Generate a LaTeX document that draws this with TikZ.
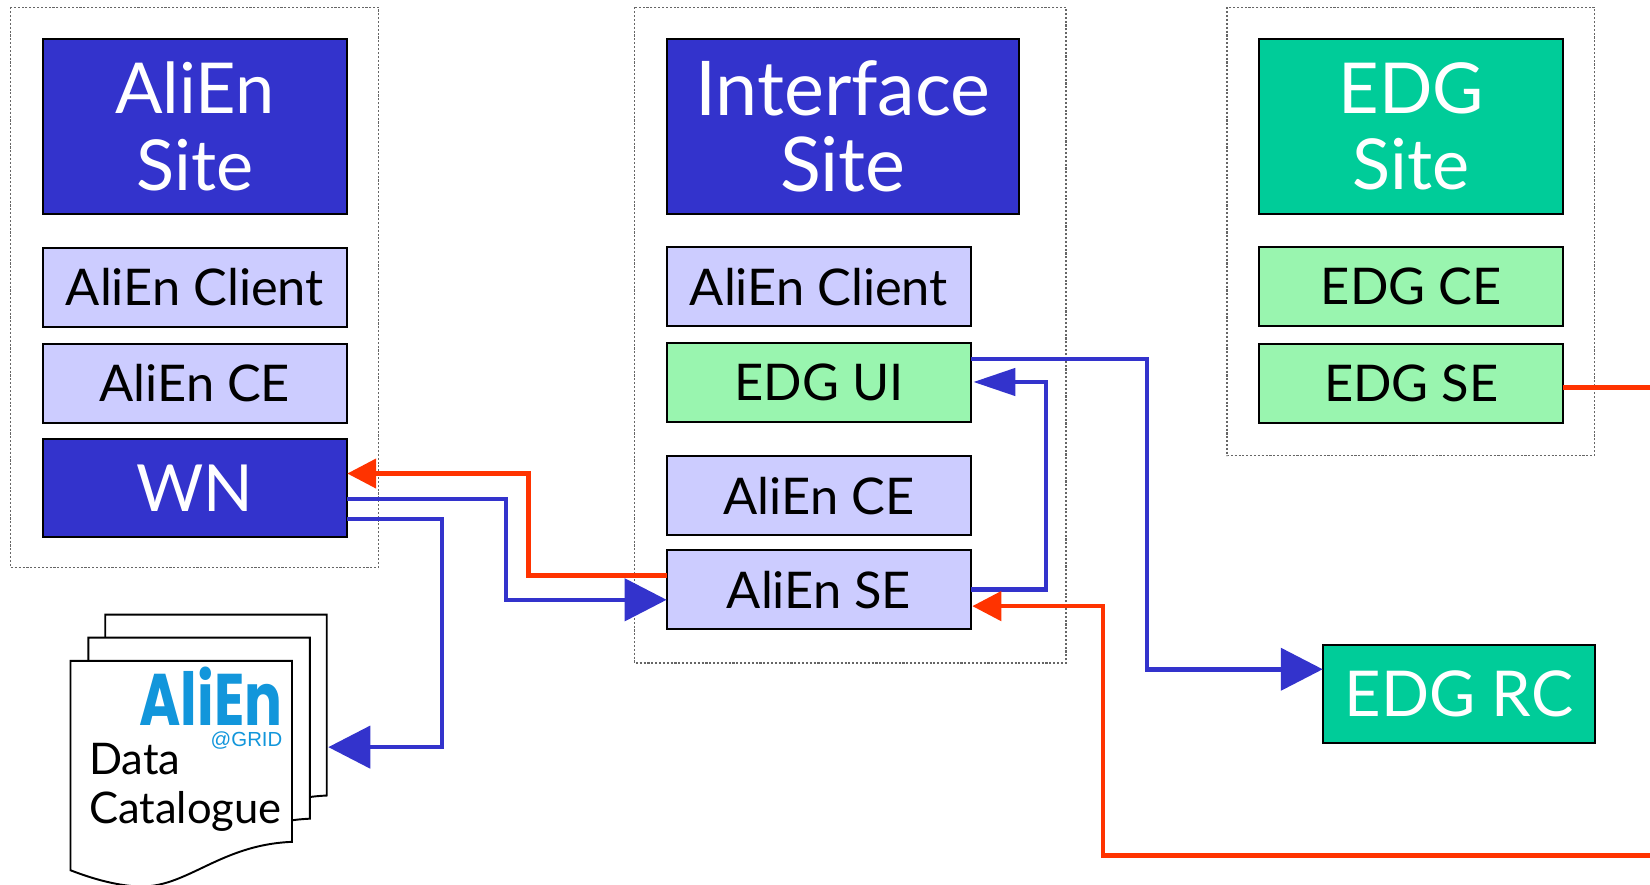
\documentclass[tikz,border=0pt]{standalone}
\usepackage{fontspec}
\setmainfont{Lato}
\newfontfamily\logofont{Poppins}
\newfontfamily\gridfont{Liberation Sans}
\usetikzlibrary{calc}
\usetikzlibrary{arrows.meta}
\definecolor{siteblue}{HTML}{3333CC}
\definecolor{lavender}{HTML}{CCCCFF}
\definecolor{mint}{HTML}{00CC99}
\definecolor{palegreen}{HTML}{99F5AF}
\definecolor{linkred}{HTML}{FF3300}
\definecolor{logoblue}{HTML}{1296DB}
\def\u{.010523cm}
\tikzset{
 sitebox/.style={draw=black!60, line width=.35pt, dash pattern=on .6pt off .5pt},
 box/.style={draw=black, line width=.6pt, inner sep=0, outer sep=0, align=center, anchor=north west},
 headbox/.style={box, text=white, font=\fontsize{20}{21.8}\selectfont},
 itembox/.style={box, text=black, font=\fontsize{14.4}{18}\selectfont},
 catbox/.style={anchor=base west, inner sep=0, text=black, font=\fontsize{12.4}{14.3}\selectfont},
 wirebl/.style={draw=siteblue, line width=1.3pt},
 wirerd/.style={draw=linkred, line width=1.3pt},
 tipbig/.style={-{Triangle[length=.42cm,width=.42cm]}},
 tipmid/.style={-{Triangle[length=.42cm,width=.27cm]}},
 tiprd/.style={-{Triangle[length=.29cm,width=.29cm]}},
 pagebox/.style={draw=black, line width=.55pt, fill=white},
}
\begin{document}
\begin{tikzpicture}[x=\u,y=-\u]
\useasboundingbox (0,0) rectangle (1568,841);
% dashed frames
\draw[sitebox] (10,7) rectangle (360,539);
\draw[sitebox] (603,7) rectangle (1013,630);
\draw[sitebox] (1166,7) rectangle (1515,433);
% left site
\node[headbox, fill=siteblue, minimum width=289.5*\u, minimum height=166*\u] (aliensite) at (40.5,37) {AliEn\\Site};
\node[itembox, fill=lavender, minimum width=289.5*\u, minimum height=75*\u] (lclient) at (40.5,235.5) {AliEn Client};
\node[itembox, fill=lavender, minimum width=289.5*\u, minimum height=75*\u] (lce) at (40.5,327) {AliEn CE};
\node[headbox, fill=siteblue, minimum width=289.5*\u, minimum height=93*\u, font=\fontsize{18.5}{21}\selectfont] (wn) at (40.5,417) {WN};
% interface site
\node[headbox, fill=siteblue, minimum width=335*\u, minimum height=166*\u, font=\fontsize{21.5}{21.8}\selectfont] (ifsite) at (633.5,37) {Interface\\Site};
\node[itembox, fill=lavender, minimum width=289.5*\u, minimum height=75*\u] (iclient) at (633.5,235) {AliEn Client};
\node[itembox, fill=palegreen, minimum width=289.5*\u, minimum height=75*\u] (ui) at (633.5,326) {EDG UI};
\node[itembox, fill=lavender, minimum width=289.5*\u, minimum height=75*\u] (ice) at (633.5,433.5) {AliEn CE};
\node[itembox, fill=lavender, minimum width=289.5*\u, minimum height=75*\u] (ise) at (633.5,523) {AliEn SE};
% edg site
\node[headbox, fill=mint, minimum width=289*\u, minimum height=166*\u] (edgsite) at (1196.5,37) {EDG\\Site};
\node[itembox, fill=palegreen, minimum width=289*\u, minimum height=75*\u] (edgce) at (1196.5,235) {EDG CE};
\node[itembox, fill=palegreen, minimum width=289*\u, minimum height=75*\u] (edgse) at (1196.5,327) {EDG SE};
\node[headbox, fill=mint, minimum width=259*\u, minimum height=93*\u, font=\fontsize{18}{21}\selectfont] (edgrc) at (1257,613) {EDG RC};
% catalogue pages
\foreach \dx/\dy in {33/-44,17/-22,0/0} {
 \draw[pagebox] (67+\dx,628+\dy) -- (277.5+\dx,628+\dy) -- (277.5+\dx,800+\dy)
   .. controls (205+\dx,803+\dy) and (175+\dx,848+\dy) .. (125+\dx,842+\dy)
   .. controls (105+\dx,840+\dy) and (85+\dx,834+\dy) .. (67+\dx,827+\dy) -- cycle;
}
\node[anchor=base east, inner sep=0, text=logoblue, font=\logofont\bfseries\fontsize{16}{20}\selectfont] (logo) at (269,689) {\scalebox{1}[1.3]{AliEn}};
\node[anchor=base east, inner sep=0, text=logoblue, font=\gridfont\fontsize{5.8}{7}\selectfont] (grid) at (269,709) {@GRID};
\node[catbox] (data) at (84,736) {Data};
\node[catbox] (catalogue) at (84,783) {Catalogue};
\coordinate (pages) at (312,710);
\coordinate (offright) at (1568,368);
\coordinate (offlow) at (1568,813);
% links
\draw[wirerd, tiprd] ($(ise.west)+(0,-13.5)$) -- ++(-131,0) |- ($(wn.east)+(0,-13.5)$);
\draw[wirebl, tipbig] ($(wn.east)+(0,10.5)$) -- ++(151,0) |- ($(ise.west)+(0,9.5)$);
\draw[wirebl, tipbig] ($(wn.east)+(0,29.5)$) -- ++(90,0) |- (pages);
\draw[wirebl, tipbig] ($(ui.east)+(0,-22.5)$) -- ++(167,0) |- ($(edgrc.west)+(0,-23.5)$);
\draw[wirebl, tipmid] ($(ise.east)+(0,-0.5)$) -- ++(71,0) |- ($(ui.east)+(2,-0.5)$);
\draw[wirerd] (edgse.east |- offright) -- (offright);
\draw[wirerd, tiprd] (offlow) -- ++(-520,0) |- ($(ise.east)+(1,15.5)$);
\end{tikzpicture}
\end{document}
